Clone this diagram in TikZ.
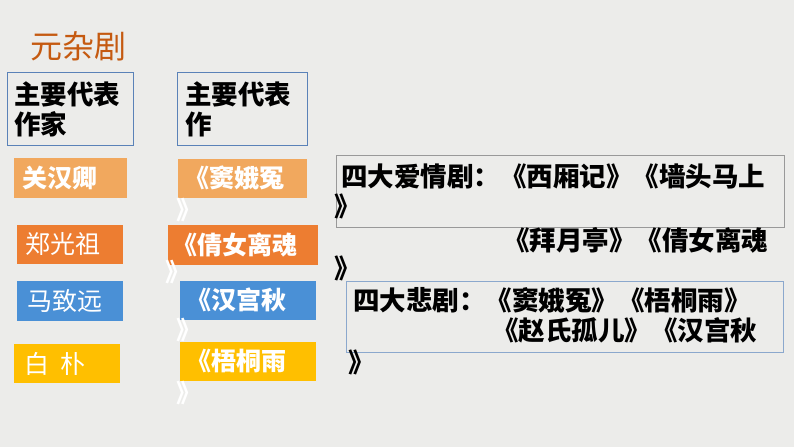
\documentclass[tikz,border=0pt]{standalone}
\usepackage{fontspec}
\newfontfamily\cjk{Noto Sans CJK SC}[BoldFont={Noto Sans CJK SC Black}]
\definecolor{bg}{HTML}{ECECEA}
\definecolor{ttl}{HTML}{C55A11}
\definecolor{c1}{HTML}{F1A85E}
\definecolor{c2}{HTML}{ED7D31}
\definecolor{c3}{HTML}{4A90D6}
\definecolor{c4}{HTML}{FFBF00}
\definecolor{bl}{HTML}{5A82B8}
\begin{document}
\begin{tikzpicture}[x=1pt,y=-1pt,
  wt/.style={font=\cjk\fontsize{25}{30}\selectfont\bfseries,text=white,anchor=west,inner sep=0pt},
  wtn/.style={font=\cjk\fontsize{25}{30}\selectfont,text=white,anchor=west,inner sep=0pt},
  bk/.style={font=\cjk\fontsize{26.5}{31}\selectfont\bfseries,text=black,anchor=west,inner sep=0pt}]
\fill[bg] (0,0) rectangle (794,447);
\useasboundingbox (0,0) rectangle (794,447);
\node[font=\cjk\fontsize{32}{36}\selectfont,text=ttl,anchor=west,inner sep=0pt] (title) at (30,46) {元杂剧};
% header boxes
\draw[bl,line width=0.8pt] (7,72) rectangle (133,145);
\draw[bl,line width=0.8pt] (177,72) rectangle (307,145);
\node[bk] (h1a) at (14,94) {主要代表};
\node[bk] (h1b) at (14,124) {作家};
\node[bk] (h2a) at (185,94) {主要代表};
\node[bk] (h2b) at (185,124) {作};
% authors
\fill[c1] (14,158) rectangle (127,198);
\fill[c2] (17,225) rectangle (123,264);
\fill[c3] (17,281) rectangle (123,321);
\fill[c4] (14,344) rectangle (120,383);
\node[wt] (a1) at (22,178) {关汉卿};
\node[wtn] (a2) at (25,244) {郑光祖};
\node[wtn] (a3) at (27,301) {马致远};
\node[wtn] (a4) at (24,364) {白\ \ 朴};
% works
\fill[c1] (178,159) rectangle (307,198);
\fill[c2] (168,225) rectangle (318,265);
\fill[c3] (180,281) rectangle (316,320);
\fill[c4] (180,342) rectangle (316,381);
\node[wt] (w1) at (184,178) {《窦娥冤};
\node[wt] (w1b) at (176,210) {》};
\node[wt] (w2) at (172,245) {《倩女离魂};
\node[wt] (w2b) at (165,272) {》};
\node[wt] (w3) at (186,300) {《汉宫秋};
\node[wt] (w3b) at (176,330) {》};
\node[wt] (w4) at (186,361) {《梧桐雨};
\node[wt] (w4b) at (176,393) {》};
% love box
\draw[gray!80,line width=0.8pt] (336,155) rectangle (784,227);
\node[bk] (l1) at (341,176) {四大爱情剧：《西厢记》《墙头马上};
\node[bk] (l2) at (334,206) {》};
\node[bk] (l3) at (503,240) {《拜月亭》《倩女离魂};
\node[bk] (l4) at (334,268) {》};
% tragedy box
\draw[bl!70,line width=0.8pt] (346,281) rectangle (783,352);
\node[bk] (t1) at (353,300) {四大悲剧：《窦娥冤》《梧桐雨》};
\node[bk] (t2) at (492,330) {《赵氏孤儿》《汉宫秋};
\node[bk] (t3) at (348,362) {》};
\end{tikzpicture}
\end{document}
